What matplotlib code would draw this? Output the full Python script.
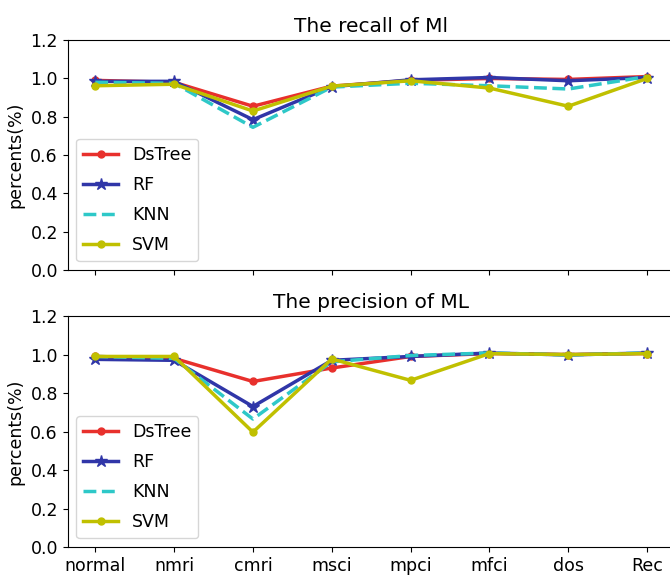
import matplotlib
matplotlib.use('Agg')
import matplotlib.pyplot as plt

categories = ['normal', 'nmri', 'cmri', 'msci', 'mpci', 'mfci', 'dos', 'Rec']

# recall values
recall_dstree = [0.99, 0.98, 0.855, 0.96, 0.99, 1.0, 0.995, 1.01]
recall_rf = [0.985, 0.985, 0.785, 0.957, 0.993, 1.005, 0.988, 1.005]
recall_knn = [0.98, 0.975, 0.745, 0.955, 0.975, 0.962, 0.945, 1.01]
recall_svm = [0.962, 0.97, 0.83, 0.96, 0.988, 0.95, 0.855, 1.0]

# precision values
prec_dstree = [0.99, 0.98, 0.86, 0.93, 0.99, 1.005, 1.0, 1.005]
prec_rf = [0.975, 0.97, 0.73, 0.97, 0.99, 1.008, 0.998, 1.008]
prec_knn = [0.99, 0.98, 0.665, 0.962, 0.995, 1.008, 0.998, 1.008]
prec_svm = [0.99, 0.99, 0.597, 0.977, 0.866, 1.005, 1.0, 1.005]

styles = [
    ('DsTree', dict(color='#e8302c', marker='o', markersize=5, linestyle='-')),
    ('RF', dict(color='#3036a8', marker='*', markersize=9, linestyle='-')),
    ('KNN', dict(color='#2ec8c8', marker=None, linestyle='--')),
    ('SVM', dict(color='#c0c000', marker='o', markersize=5, linestyle='-')),
]


def draw(ax, series, title):
    x = range(len(categories))
    for (name, st), vals in zip(styles, series):
        ax.plot(x, vals, label=name, linewidth=2.5, **st)
    ax.set_ylim(0, 1.2)
    ax.set_yticks([0.0, 0.2, 0.4, 0.6, 0.8, 1.0, 1.2])
    ax.set_xticks(list(x))
    ax.set_title(title, fontsize=14.5)
    ax.set_ylabel('percents(%)', fontsize=12.5)
    ax.tick_params(labelsize=12.5)
    ax.legend(loc='lower left', fontsize=12.5, labelspacing=0.7)


fig = plt.figure(figsize=(6.7, 5.82), dpi=100)
ax1 = fig.add_axes([0.101, 0.536, 0.906, 0.395])
ax2 = fig.add_axes([0.101, 0.060, 0.906, 0.397])

draw(ax1, [recall_dstree, recall_rf, recall_knn, recall_svm], 'The recall of Ml')
ax1.set_xticklabels([])
draw(ax2, [prec_dstree, prec_rf, prec_knn, prec_svm], 'The precision of ML')
ax2.set_xticklabels(categories)

fig.savefig('out.png', dpi=100)
